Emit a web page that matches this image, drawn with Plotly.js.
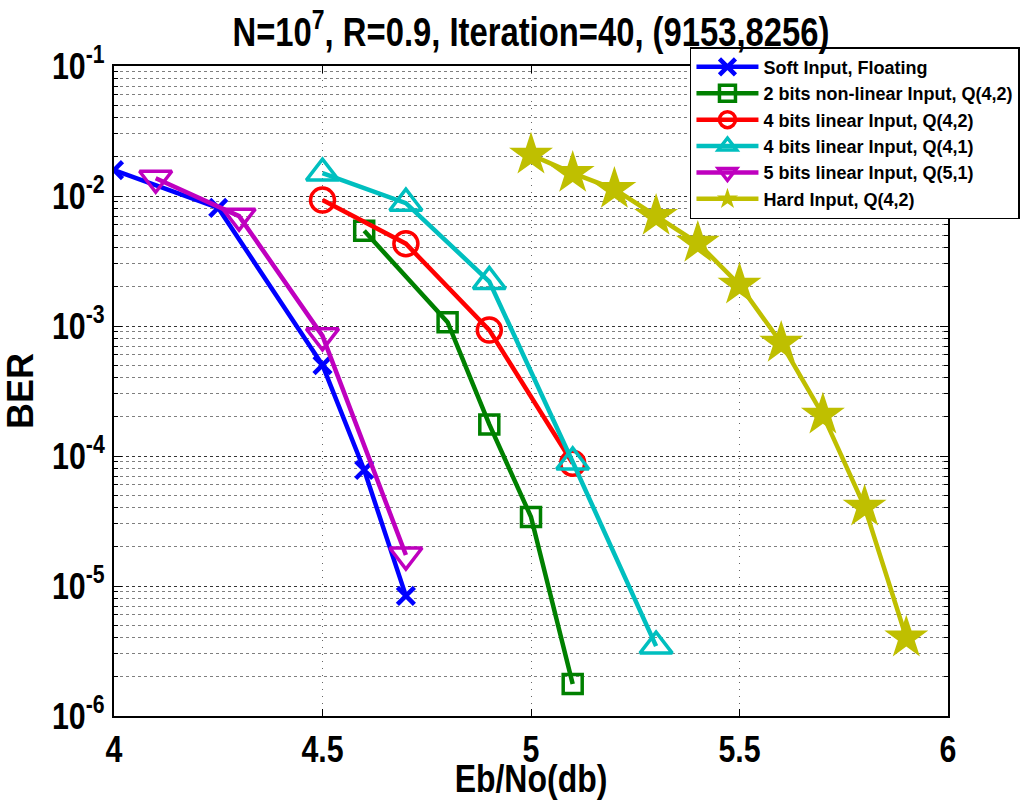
<!DOCTYPE html>
<html>
<head>
<meta charset="utf-8">
<script src="https://cdn.plot.ly/plotly-3.0.1.min.js"></script>
<style>html,body{margin:0;padding:0;background:#fff;}#chart{width:1027px;height:800px;}</style>
</head>
<body>
<div id="chart"></div>
<script>
// ---- data ----
const seriesNames = [
  "Soft Input, Floating",
  "2 bits non-linear Input, Q(4,2)",
  "4 bits linear Input, Q(4,2)",
  "4 bits linear Input, Q(4,1)",
  "5 bits linear Input, Q(5,1)",
  "Hard Input, Q(4,2)"
];
const softX   = [4.0, 4.25, 4.5, 4.6, 4.7];
const softY   = [1.58e-2, 8.1e-3, 5.0e-4, 7.8e-5, 8.4e-6];
const nl2X    = [4.6, 4.8, 4.9, 5.0, 5.1];
const nl2Y    = [5.4e-3, 1.07e-3, 1.75e-4, 3.4e-5, 1.76e-6];
const lin42X  = [4.5, 4.7, 4.9, 5.1];
const lin42Y  = [9.3e-3, 4.3e-3, 9.3e-4, 8.8e-5];
const lin41X  = [4.5, 4.7, 4.9, 5.1, 5.3];
const lin41Y  = [1.5e-2, 8.8e-3, 2.2e-3, 9.0e-5, 3.45e-6];
const lin51X  = [4.1, 4.3, 4.5, 4.7];
const lin51Y  = [1.37e-2, 7.0e-3, 8.4e-4, 1.73e-5];
const hardX   = [5.0, 5.1, 5.2, 5.3, 5.4, 5.5, 5.6, 5.7, 5.8, 5.9];
const hardY   = [2.07e-2, 1.5e-2, 1.13e-2, 7.0e-3, 4.35e-3, 2.07e-3, 7.4e-4, 2.07e-4, 4.06e-5, 4.0e-6];
const xTicks  = [4, 4.5, 5, 5.5, 6];
const xTickLabels = ["4", "4.5", "5", "5.5", "6"];
const yTicks  = [1e-6, 1e-5, 1e-4, 1e-3, 1e-2, 1e-1];
const yTickLabels = ["10<sup>-6</sup>", "10<sup>-5</sup>", "10<sup>-4</sup>", "10<sup>-3</sup>", "10<sup>-2</sup>", "10<sup>-1</sup>"];

const FONT = "'Liberation Sans', Arial, sans-serif";
const LW = 4.5;

function tr(name, x, y, color, symbol, size, mlw) {
  return {
    type: "scatter", mode: "lines+markers", name: name, x: x, y: y,
    line: {color: color, width: LW},
    marker: {symbol: symbol, size: size, color: color, line: {color: color, width: mlw}}
  };
}

const traces = [
  tr(seriesNames[0], softX, softY, "#0000ff", "x-thin-open", 17, 4.5),
  tr(seriesNames[1], nl2X, nl2Y, "#008000", "square-open", 19, 3.5),
  tr(seriesNames[2], lin42X, lin42Y, "#ff0000", "circle-open", 24, 3.5),
  tr(seriesNames[3], lin41X, lin41Y, "#00bfbf", "triangle-up-open", 28, 3.5),
  tr(seriesNames[4], lin51X, lin51Y, "#bf00bf", "triangle-down-open", 28, 3.5),
  tr(seriesNames[5], hardX, hardY, "#bfbf00", "star", 33, 0)
];

const layout = {
  width: 1027, height: 800,
  margin: {l: 114, r: 79, t: 66, b: 84, pad: 0, autoexpand: false},
  paper_bgcolor: "#ffffff", plot_bgcolor: "#ffffff",
  showlegend: true,
  title: {
    text: "N=10<sup>7</sup>, R=0.9, Iteration=40, (9153,8256)",
    font: {family: FONT, size: 40, color: "#000", weight: "bold"},
    x: 0.5, xref: "paper", xanchor: "center",
    y: 0.96, yref: "container", yanchor: "middle"
  },
  xaxis: {
    range: [4, 6], tickmode: "array", tickvals: xTicks, ticktext: xTickLabels,
    tickfont: {family: FONT, size: 37, color: "#000", weight: "bold"},
    ticks: "inside", ticklen: 7, tickwidth: 1, tickcolor: "#000",
    showline: true, linecolor: "#000", linewidth: 2, mirror: "ticks",
    showgrid: true, gridcolor: "rgba(0,0,0,0.6)", gridwidth: 1, griddash: "1px,6px",
    zeroline: false, automargin: false,
    title: {text: "Eb/No(db)", font: {family: FONT, size: 39, color: "#000", weight: "bold"}, standoff: 0}
  },
  yaxis: {
    type: "log", range: [-6, -1], tickmode: "array", tickvals: yTicks, ticktext: yTickLabels,
    tickfont: {family: FONT, size: 37, color: "#000", weight: "bold"},
    ticks: "inside", ticklen: 8, tickwidth: 1, tickcolor: "#000",
    showline: true, linecolor: "#000", linewidth: 2, mirror: "ticks",
    showgrid: true, gridcolor: "rgba(0,0,0,0.6)", gridwidth: 1, griddash: "dot",
    zeroline: false, automargin: false,
    minor: {dtick: "D1", ticks: "inside", ticklen: 4, tickcolor: "#000",
            showgrid: true, gridcolor: "rgba(0,0,0,0.5)", gridwidth: 1, griddash: "dot"},
    title: {text: "BER", font: {family: FONT, size: 36, color: "#000", weight: "bold"}, standoff: 6}
  },
  legend: {
    x: 0.6906, xanchor: "left", y: 1.029, yanchor: "top",
    bgcolor: "#ffffff", bordercolor: "#000", borderwidth: 1.5,
    font: {family: FONT, size: 18, color: "#000", weight: "bold"},
    itemwidth: 62, tracegroupgap: 0
  }
};

// Narrow the glyphs of the main texts horizontally (the reference uses a condensed face)
function squeeze(el, s) {
  const r = el.getBoundingClientRect();
  if (!r.width) return;
  const anchor = el.getAttribute("text-anchor") || "start";
  const sx = anchor === "end" ? r.right : (anchor === "middle" ? (r.left + r.right) / 2 : r.left);
  const sy = (r.top + r.bottom) / 2;
  const parent = el.parentNode;
  const q = new DOMPoint(sx, sy).matrixTransform(parent.getScreenCTM().inverse());
  const g = document.createElementNS("http://www.w3.org/2000/svg", "g");
  g.setAttribute("transform", "translate(" + q.x + "," + q.y + ") scale(" + s + ",1) translate(" + (-q.x) + "," + (-q.y) + ")");
  parent.insertBefore(g, el);
  g.appendChild(el);
}

Plotly.newPlot("chart", traces, layout, {displayModeBar: false, staticPlot: true}).then(function (gd) {
  const els = gd.querySelectorAll("text.gtitle, .xtick text, .ytick text, text.xtitle");
  els.forEach(function (el) { squeeze(el, 0.82); });
});
</script>
</body>
</html>
